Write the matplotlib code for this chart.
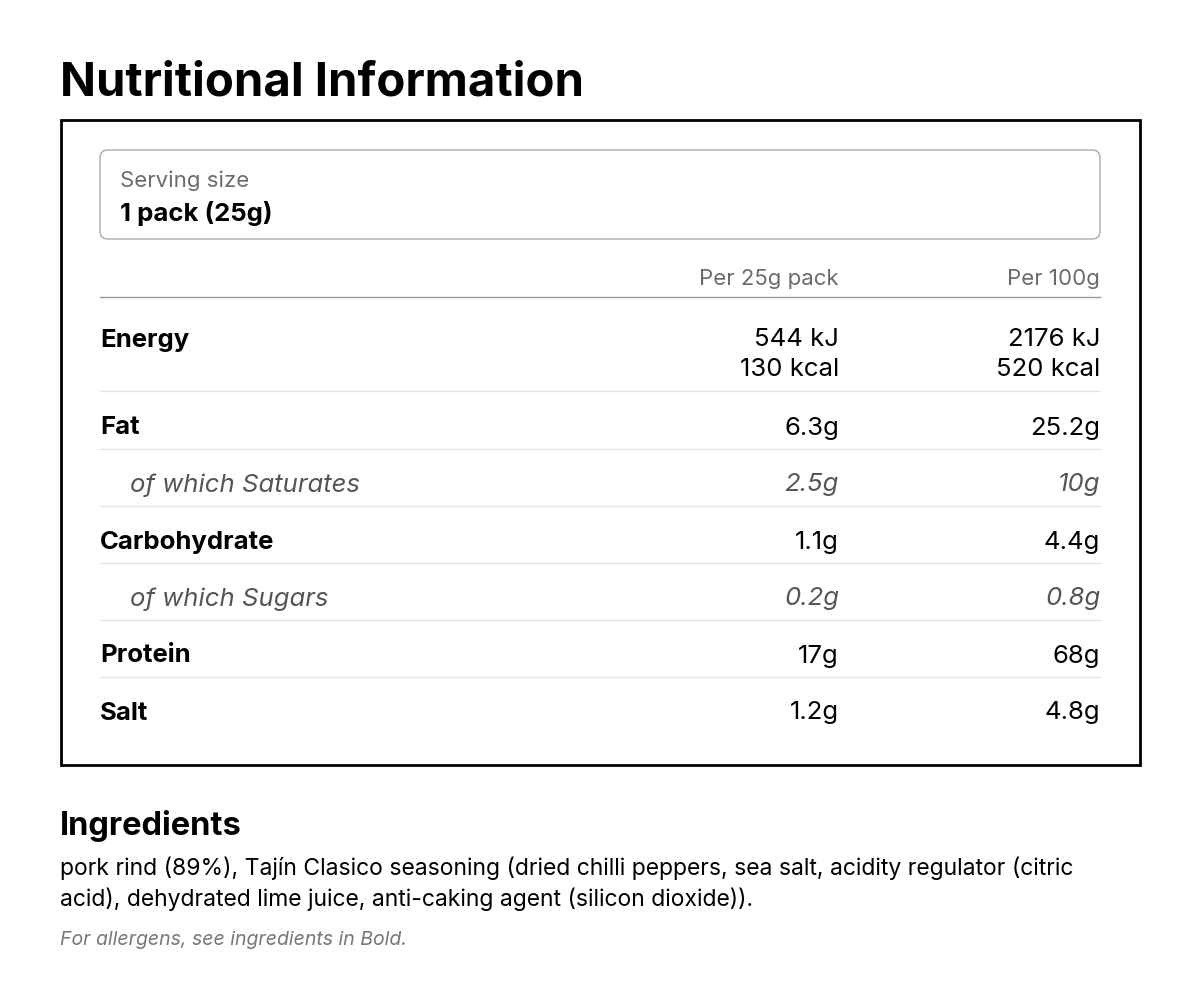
import matplotlib
matplotlib.use("Agg")
import matplotlib.pyplot as plt
from matplotlib.patches import Rectangle, FancyBboxPatch

title = "Nutritional Information"
serving_label = "Serving size"
serving_value = "1 pack (25g)"
col_headers = ["Per 25g pack", "Per 100g"]
nutrients = ["Energy", "Fat", "of which Saturates", "Carbohydrate", "of which Sugars", "Protein", "Salt"]
is_sub = [False, False, True, False, True, False, False]
per_pack = ["544 kJ\n130 kcal", "6.3g", "2.5g", "1.1g", "0.2g", "17g", "1.2g"]
per_100g = ["2176 kJ\n520 kcal", "25.2g", "10g", "4.4g", "0.8g", "68g", "4.8g"]
ingredients_title = "Ingredients"
ingredients_text = ("pork rind (89%), Tajín Clasico seasoning (dried chilli peppers, sea salt, acidity regulator (citric\n"
                    "acid), dehydrated lime juice, anti-caking agent (silicon dioxide)).")
allergen_note = "For allergens, see ingredients in Bold."

FONT = "Inter"
fig = plt.figure(figsize=(12, 10.01), dpi=100)
ax = fig.add_axes([0, 0, 1, 1])
ax.set_xlim(0, 1200); ax.set_ylim(1001, 0); ax.axis("off")

ax.text(60, 84, title, fontsize=34, fontweight="bold", family=FONT, va="center", color="black")
ax.add_patch(Rectangle((61, 120), 1079, 645, fill=False, lw=2, ec="black"))
ax.add_patch(FancyBboxPatch((100, 150), 1000, 89, boxstyle="round,pad=0,rounding_size=8",
                            fill=False, lw=1, ec="#aaaaaa"))
ax.text(120, 181, serving_label, fontsize=16, family=FONT, color="#6b6b6b", va="center")
ax.text(120, 214, serving_value, fontsize=18.5, fontweight="bold", family=FONT, color="black", va="center")

xa, xb = 839, 1100
ax.text(xa, 279, col_headers[0], fontsize=16, family=FONT, color="#6b6b6b", ha="right", va="center")
ax.text(xb, 279, col_headers[1], fontsize=16, family=FONT, color="#6b6b6b", ha="right", va="center")
ax.plot([100, 1100], [297, 297], color="#999999", lw=1)

y = 338
for i, name in enumerate(nutrients):
    sub = is_sub[i]
    if sub:
        kw = dict(fontstyle="italic", color="#555555")
        lx = 130
    else:
        kw = dict(color="black")
        lx = 100
    ax.text(lx, y + 2, name, fontsize=18.5, family=FONT, va="center",
            fontweight=("normal" if sub else "bold"), **kw)
    for x, v in ((xa, per_pack[i]), (xb, per_100g[i])):
        lines = v.split("\n")
        for k, ln in enumerate(lines):
            ax.text(x, y + 2 + 30 * k, ln, fontsize=18.5, family=FONT, ha="right", va="center", **kw)
    nlines = len(per_pack[i].split("\n"))
    bottom = y + 30 * (nlines - 1) + 23
    if i < len(nutrients) - 1:
        ax.plot([100, 1100], [bottom, bottom], color="#e4e4e4", lw=1)
    y = bottom + 35 if i == 0 else bottom + 34

ax.text(60, 826, ingredients_title, fontsize=23.5, fontweight="bold", family=FONT, va="center", color="black")
ax.text(60, 884, ingredients_text, fontsize=16.5, family=FONT, va="center", color="black", linespacing=1.4)
ax.text(60, 940, allergen_note, fontsize=14, family=FONT, fontstyle="italic", va="center", color="#777777")

fig.savefig("out.png", dpi=100, facecolor="white")
